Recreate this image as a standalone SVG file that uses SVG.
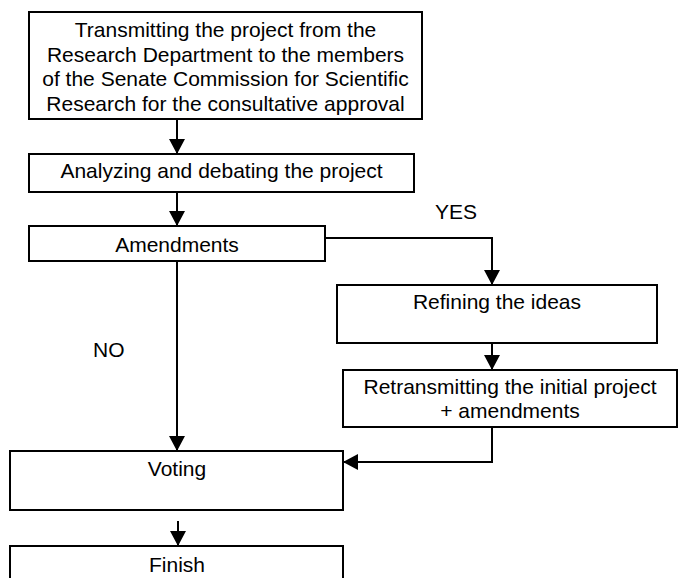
<svg xmlns="http://www.w3.org/2000/svg" width="682" height="578" viewBox="0 0 682 578">
<defs>
<marker id="arr" markerUnits="userSpaceOnUse" markerWidth="15" markerHeight="16" viewBox="0 0 15 16" refX="15" refY="8" orient="auto">
<path d="M0,0 L15,8 L0,16 Z" fill="#000"/>
</marker>
<style>
.box{fill:#fff;stroke:#000;stroke-width:2}
.t{font-family:"Liberation Sans",Arial,sans-serif;font-size:21px;fill:#000;text-anchor:middle}
.l{font-family:"Liberation Sans",Arial,sans-serif;font-size:21px;fill:#000}
.c{fill:none;stroke:#000;stroke-width:2;marker-end:url(#arr)}
</style>
</defs>
<rect width="682" height="578" fill="#fff"/>
<g id="connectors">
<path class="c" d="M177,119 V154"/>
<path class="c" d="M177,192 V226"/>
<path class="c" d="M325,238 H492 V285"/>
<path class="c" d="M177,261 V451"/>
<path class="c" d="M492,343 V370"/>
<path class="c" d="M492,427 V462 H343"/>
<path class="c" d="M178,521 V546"/>
<text class="l" x="435" y="219">YES</text>
<text class="l" x="93" y="357">NO</text>
</g>
<g id="n1">
<rect class="box" x="29" y="12" width="393" height="107"/>
<text class="t" x="225.5" y="37">Transmitting the project from the</text>
<text class="t" x="225.5" y="61.5">Research Department to the members</text>
<text class="t" x="225.5" y="86">of the Senate Commission for Scientific</text>
<text class="t" x="225.5" y="110.5">Research for the consultative approval</text>
</g>
<g id="n2">
<rect class="box" x="29" y="154" width="385" height="38"/>
<text class="t" x="221.5" y="178">Analyzing and debating the project</text>
</g>
<g id="n3">
<rect class="box" x="29" y="226" width="296" height="35"/>
<text class="t" x="177" y="252">Amendments</text>
</g>
<g id="n4">
<rect class="box" x="337" y="285" width="320" height="58"/>
<text class="t" x="497" y="309">Refining the ideas</text>
</g>
<g id="n5">
<rect class="box" x="343" y="370" width="334" height="57"/>
<text class="t" x="510" y="394">Retransmitting the initial project</text>
<text class="t" x="510" y="418">+ amendments</text>
</g>
<g id="n6">
<rect class="box" x="10" y="451" width="333" height="59"/>
<text class="t" x="177" y="476">Voting</text>
</g>
<g id="n7">
<rect class="box" x="10" y="546" width="333" height="40"/>
<text class="t" x="177" y="572">Finish</text>
</g>
</svg>
